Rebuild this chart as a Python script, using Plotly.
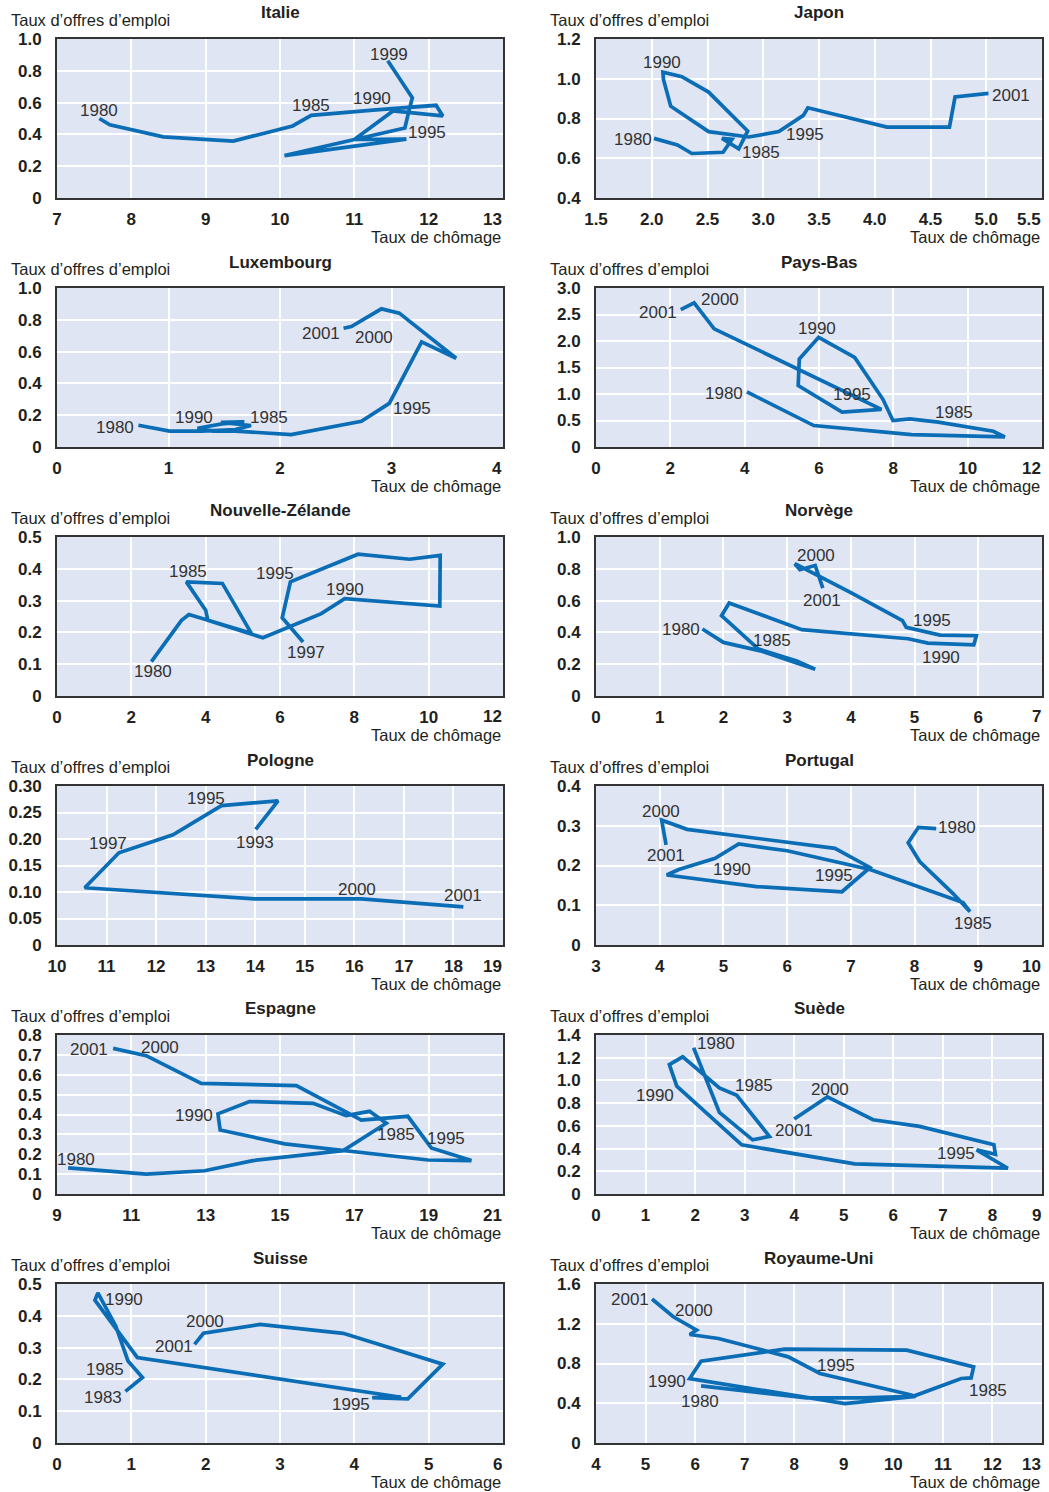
import plotly.graph_objects as go

W, H = 1049, 1492

# ---------------- data: unemployment rate (x) vs job-vacancy rate (y) ----------------
italie_u = [7.57, 7.71, 8.43, 9.37, 10.17, 10.42, 11.25, 12.10, 12.19, 11.90, 11.52, 11.00, 11.70, 10.06, 11.05, 11.68, 11.72, 11.75, 11.78, 11.45]
italie_v = [0.50, 0.46, 0.385, 0.358, 0.453, 0.52, 0.553, 0.583, 0.516, 0.53, 0.547, 0.368, 0.37, 0.267, 0.375, 0.44, 0.52, 0.58, 0.63, 0.863]
italie_lab = [("1980", 7.57, 0.552), ("1985", 10.42, 0.583), ("1990", 11.24, 0.625), ("1999", 11.47, 0.905), ("1995", 11.98, 0.415)]

japon_u = [2.02, 2.23, 2.36, 2.64, 2.72, 2.63, 2.78, 2.86, 2.51, 2.27, 2.10, 2.105, 2.17, 2.51, 2.87, 3.14, 3.36, 3.40, 4.11, 4.67, 4.72, 5.02]
japon_v = [0.70, 0.667, 0.624, 0.63, 0.695, 0.70, 0.647, 0.737, 0.933, 1.01, 1.033, 0.996, 0.862, 0.734, 0.707, 0.734, 0.816, 0.854, 0.757, 0.757, 0.909, 0.926]
japon_lab = [("1980", 1.83, 0.695), ("1985", 2.98, 0.629), ("1990", 2.09, 1.083), ("1995", 3.37, 0.72), ("2001", 5.22, 0.917)]

lux_u = [0.73, 1.01, 1.30, 1.60, 1.74, 1.68, 1.47, 1.68, 1.48, 1.26, 1.40, 1.60, 1.90, 2.10, 2.73, 2.98, 3.27, 3.58, 3.07, 2.91, 2.64, 2.57]
lux_v = [0.137, 0.10, 0.10, 0.11, 0.135, 0.14, 0.155, 0.158, 0.145, 0.118, 0.10, 0.10, 0.09, 0.078, 0.162, 0.274, 0.661, 0.558, 0.842, 0.869, 0.758, 0.747]
lux_lab = [("1980", 0.52, 0.12), ("1990", 1.23, 0.183), ("1985", 1.90, 0.187), ("1995", 3.18, 0.242), ("2001", 2.37, 0.714), ("2000", 2.84, 0.688)]

pb_u = [4.06, 5.86, 8.49, 11.0, 10.69, 9.21, 8.44, 7.99, 7.72, 6.96, 5.99, 5.47, 5.44, 6.62, 7.68, 7.0, 6.0, 5.0, 4.0, 3.18, 2.64, 2.28]
pb_v = [1.04, 0.405, 0.234, 0.19, 0.297, 0.468, 0.53, 0.50, 0.90, 1.69, 2.07, 1.66, 1.16, 0.658, 0.709, 0.94, 1.28, 1.615, 1.953, 2.23, 2.72, 2.59]
pb_lab = [("2001", 1.67, 2.53), ("2000", 3.33, 2.78), ("1990", 5.95, 2.24), ("1980", 3.45, 1.01), ("1995", 6.89, 0.99), ("1985", 9.63, 0.645)]

nz_u = [2.54, 3.35, 3.55, 5.23, 4.45, 3.48, 4.00, 4.06, 5.54, 7.11, 7.74, 10.30, 10.31, 9.49, 8.10, 6.28, 6.06, 6.62]
nz_v = [0.108, 0.238, 0.256, 0.197, 0.354, 0.359, 0.27, 0.238, 0.183, 0.259, 0.306, 0.283, 0.442, 0.43, 0.446, 0.359, 0.246, 0.17]
nz_lab = [("1980", 2.58, 0.076), ("1985", 3.52, 0.392), ("1995", 5.86, 0.385), ("1990", 7.74, 0.336), ("1997", 6.69, 0.137)]

nor_u = [1.67, 2.0, 2.58, 3.44, 3.15, 2.55, 1.97, 2.09, 3.23, 4.9, 5.21, 5.55, 5.93, 5.97, 5.40, 4.87, 4.81, 4.0, 3.12, 3.20, 3.44, 3.56]
nor_v = [0.421, 0.337, 0.284, 0.168, 0.221, 0.295, 0.505, 0.585, 0.417, 0.36, 0.333, 0.328, 0.322, 0.379, 0.383, 0.432, 0.474, 0.65, 0.832, 0.794, 0.821, 0.678]
nor_lab = [("1980", 1.33, 0.421), ("1985", 2.76, 0.347), ("2000", 3.46, 0.884), ("2001", 3.54, 0.60), ("1995", 5.27, 0.474), ("1990", 5.41, 0.242)]

pol_u = [14.01, 14.46, 13.32, 12.34, 11.25, 10.56, 13.99, 16.14, 18.20]
pol_v = [0.218, 0.272, 0.263, 0.208, 0.174, 0.108, 0.087, 0.087, 0.072]
pol_lab = [("1995", 13.01, 0.277), ("1997", 11.03, 0.192), ("1993", 13.99, 0.194), ("2000", 16.05, 0.105), ("2001", 18.2, 0.094)]

por_u = [8.34, 8.06, 7.90, 8.08, 8.60, 8.87, 8.76, 7.30, 6.0, 5.24, 4.87, 4.30, 4.11, 5.52, 6.86, 7.30, 6.75, 5.97, 5.21, 4.43, 4.03, 4.10]
por_v = [0.293, 0.296, 0.257, 0.21, 0.13, 0.084, 0.107, 0.19, 0.237, 0.254, 0.218, 0.19, 0.176, 0.147, 0.134, 0.195, 0.243, 0.259, 0.275, 0.291, 0.314, 0.252]
por_lab = [("2000", 4.02, 0.337), ("2001", 4.10, 0.225), ("1990", 5.14, 0.191), ("1995", 6.74, 0.174), ("1980", 8.66, 0.295), ("1985", 8.92, 0.055)]

esp_u = [9.30, 11.40, 12.97, 14.27, 16.70, 17.86, 17.41, 16.78, 15.89, 14.18, 13.33, 13.39, 15.13, 18.98, 20.15, 19.07, 18.44, 17.19, 15.44, 12.88, 11.40, 10.51]
esp_v = [0.131, 0.10, 0.117, 0.168, 0.218, 0.356, 0.416, 0.394, 0.456, 0.465, 0.403, 0.322, 0.252, 0.171, 0.168, 0.232, 0.391, 0.372, 0.545, 0.557, 0.696, 0.733]
esp_lab = [("2001", 9.86, 0.725), ("2000", 11.76, 0.735), ("1990", 12.68, 0.394), ("1985", 18.13, 0.297), ("1995", 19.46, 0.277), ("1980", 9.50, 0.176)]

sue_u = [1.97, 2.49, 3.16, 3.50, 2.84, 2.49, 1.75, 1.48, 1.63, 2.94, 5.22, 8.31, 7.68, 8.06, 8.03, 6.53, 5.59, 4.67, 4.00]
sue_v = [1.288, 0.719, 0.477, 0.507, 0.869, 0.934, 1.208, 1.14, 0.949, 0.433, 0.265, 0.227, 0.389, 0.35, 0.433, 0.595, 0.654, 0.855, 0.66]
sue_lab = [("1980", 2.42, 1.323), ("1985", 3.19, 0.955), ("1990", 1.20, 0.866), ("2000", 4.72, 0.92), ("2001", 4.0, 0.557), ("1995", 7.27, 0.354)]

sui_u = [0.92, 1.15, 0.955, 0.82, 0.79, 0.55, 0.51, 1.08, 2.60, 4.00, 4.63, 4.24, 4.72, 5.19, 3.85, 2.73, 1.97, 1.85]
sui_v = [0.1625, 0.206, 0.258, 0.35, 0.368, 0.472, 0.449, 0.269, 0.216, 0.166, 0.144, 0.143, 0.139, 0.248, 0.345, 0.373, 0.345, 0.31]
sui_lab = [("1990", 0.90, 0.451), ("2000", 1.99, 0.381), ("2001", 1.57, 0.305), ("1985", 0.65, 0.232), ("1983", 0.62, 0.144), ("1995", 3.96, 0.121)]

ru_u = [6.12, 8.25, 9.40, 10.40, 11.37, 11.57, 11.62, 10.27, 7.81, 6.12, 5.89, 8.25, 9.02, 10.45, 10.30, 8.52, 7.88, 6.47, 5.89, 6.03, 5.56, 5.13]
ru_v = [0.575, 0.454, 0.455, 0.47, 0.649, 0.655, 0.766, 0.934, 0.945, 0.824, 0.649, 0.46, 0.397, 0.47, 0.49, 0.70, 0.867, 1.052, 1.092, 1.136, 1.27, 1.449]
ru_lab = [("2001", 4.69, 1.449), ("2000", 5.98, 1.338), ("1995", 8.84, 0.776), ("1990", 5.43, 0.622), ("1980", 6.10, 0.42), ("1985", 11.91, 0.531)]

# axis scales: (low, high, step, decimals)
panels = [
    ("Italie", italie_u, italie_v, italie_lab, (7, 13, 1, 0), (0, 1.0, 0.2, 1)),
    ("Japon", japon_u, japon_v, japon_lab, (1.5, 5.5, 0.5, 1), (0.4, 1.2, 0.2, 1)),
    ("Luxembourg", lux_u, lux_v, lux_lab, (0, 4, 1, 0), (0, 1.0, 0.2, 1)),
    ("Pays-Bas", pb_u, pb_v, pb_lab, (0, 12, 2, 0), (0, 3.0, 0.5, 1)),
    ("Nouvelle-Zélande", nz_u, nz_v, nz_lab, (0, 12, 2, 0), (0, 0.5, 0.1, 1)),
    ("Norvège", nor_u, nor_v, nor_lab, (0, 7, 1, 0), (0, 1.0, 0.2, 1)),
    ("Pologne", pol_u, pol_v, pol_lab, (10, 19, 1, 0), (0, 0.30, 0.05, 2)),
    ("Portugal", por_u, por_v, por_lab, (3, 10, 1, 0), (0, 0.4, 0.1, 1)),
    ("Espagne", esp_u, esp_v, esp_lab, (9, 21, 2, 0), (0, 0.8, 0.1, 1)),
    ("Suède", sue_u, sue_v, sue_lab, (0, 9, 1, 0), (0, 1.4, 0.2, 1)),
    ("Suisse", sui_u, sui_v, sui_lab, (0, 6, 1, 0), (0, 0.5, 0.1, 1)),
    ("Royaume-Uni", ru_u, ru_v, ru_lab, (4, 13, 1, 0), (0, 1.6, 0.4, 1)),
]

Y_TITLE = "Taux d’offres d’emploi"
X_TITLE = "Taux de chômage"

# ---------------- styling ----------------
FONT = "Liberation Sans, Arial, Helvetica, sans-serif"
LINE_COLOR = "#0a6db5"
BG = "#dfe5f3"
TEXT = "#231f20"
TICK_FONT = dict(family=FONT, size=17, color=TEXT, weight="bold")

COL_LEFT = [57, 596]      # plot-area left edge per column (px)
PLOT_W = 446
ROW_TOP = [39, 288, 537, 786, 1035, 1284]
PLOT_H = 159


def ticks(spec):
    lo, hi, step, dec = spec
    n = int(round((hi - lo) / step))
    vals = [round(lo + k * step, 6) for k in range(n + 1)]
    text = ["0" if abs(v) < 1e-9 else f"{v:.{dec}f}" for v in vals]
    return vals, text


fig = go.Figure()
annotations = []

for i, (name, u, v, labs, xs, ys) in enumerate(panels):
    r, c = divmod(i, 2)
    k = "" if i == 0 else str(i + 1)
    L = COL_LEFT[c]
    R = L + PLOT_W
    T = ROW_TOP[r]
    B = T + PLOT_H

    fig.add_trace(go.Scatter(
        x=u, y=v, mode="lines", xaxis="x" + k, yaxis="y" + k,
        line=dict(color=LINE_COLOR, width=3.7), hoverinfo="skip", showlegend=False,
    ))

    xv, xt = ticks(xs)
    yv, yt = ticks(ys)
    # the last x label sits flush with the right edge of the frame
    last_x = xt[-1]
    xt = xt[:-1] + [""]

    common = dict(
        showgrid=True, gridcolor="white", gridwidth=2, zeroline=False,
        showline=True, mirror=True, linecolor="#333333", linewidth=2,
        ticks="outside", tickcolor="rgba(0,0,0,0)", automargin=False,
        tickfont=TICK_FONT, fixedrange=True,
    )
    fig.update_layout(**{
        "xaxis" + k: dict(common, domain=[L / W, R / W], range=[xs[0], xs[1]],
                          tickvals=xv, ticktext=xt, ticklen=5, anchor="y" + k),
        "yaxis" + k: dict(common, domain=[1 - B / H, 1 - T / H], range=[ys[0], ys[1]],
                          tickvals=yv, ticktext=yt, ticklen=10, anchor="x" + k),
    })

    annotations.append(dict(text=last_x, x=(R + 1) / W, y=1 - (B + 21) / H,
                            xref="paper", yref="paper", xanchor="right", yanchor="middle",
                            showarrow=False, font=TICK_FONT))
    # panel title
    annotations.append(dict(text=f"<b>{name}</b>", x=(L + R) / 2 / W, y=1 - (T - 26) / H,
                            xref="paper", yref="paper", xanchor="center", yanchor="middle",
                            showarrow=False, font=dict(family=FONT, size=17, color=TEXT)))
    # axis titles
    annotations.append(dict(text=Y_TITLE, x=(L - 48) / W, y=1 - (T - 19) / H,
                            xref="paper", yref="paper", xanchor="left", yanchor="middle",
                            showarrow=False, font=dict(family=FONT, size=16.5, color=TEXT)))
    annotations.append(dict(text=X_TITLE, x=R / W, y=1 - (B + 39) / H,
                            xref="paper", yref="paper", xanchor="right", yanchor="middle",
                            showarrow=False, font=dict(family=FONT, size=16.5, color=TEXT)))
    # year labels
    for txt, lx, ly in labs:
        annotations.append(dict(text=txt, x=lx, y=ly, xref="x" + k, yref="y" + k,
                                xanchor="center", yanchor="middle", showarrow=False,
                                font=dict(family=FONT, size=17, color="#333333")))

fig.update_layout(
    template="none",
    width=W, height=H, margin=dict(l=0, r=0, t=0, b=0, pad=0),
    paper_bgcolor="white", plot_bgcolor=BG,
    annotations=annotations, showlegend=False,
)

fig.write_html("out.html", include_plotlyjs=True, config={"displayModeBar": False})
